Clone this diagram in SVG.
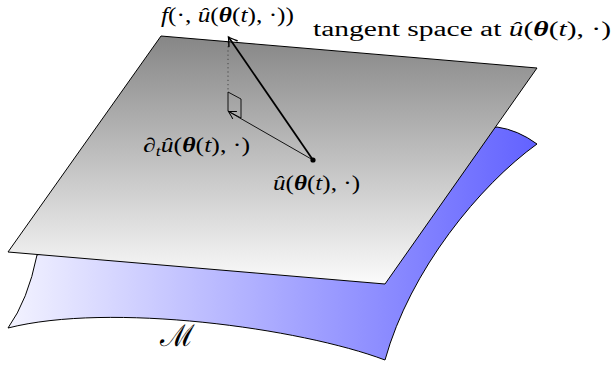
<svg xmlns="http://www.w3.org/2000/svg" width="612" height="368" viewBox="0 0 612 368">
<style>
.i{font-style:italic}
.b{font-weight:bold;font-style:italic}
.edge{stroke:#000;stroke-width:1;stroke-linejoin:round}
</style>
<defs>
<linearGradient id="gM" gradientUnits="userSpaceOnUse" x1="8" y1="0" x2="537" y2="0">
<stop offset="0" stop-color="#f3f3ff"/>
<stop offset="1" stop-color="#6262ff"/>
</linearGradient>
<linearGradient id="gP" gradientUnits="userSpaceOnUse" x1="0" y1="36" x2="0" y2="284">
<stop offset="0" stop-color="#868686"/>
<stop offset="1" stop-color="#fbfbfb"/>
</linearGradient>
<marker id="ahThick" markerUnits="userSpaceOnUse" markerWidth="20" markerHeight="20" refX="0" refY="0" viewBox="-12 -10 20 20" orient="auto">
<path d="M-8,-5 Q-2,-1 0,0 Q-2,1 -8,5" fill="none" stroke="#000" stroke-width="1.4" stroke-linecap="round"/>
</marker>
<marker id="ahThin" markerUnits="userSpaceOnUse" markerWidth="20" markerHeight="20" refX="0" refY="0" viewBox="-12 -10 20 20" orient="auto">
<path d="M-7,-4 Q-2,-1 0,0 Q-2,1 -7,4" fill="none" stroke="#000" stroke-width="1" stroke-linecap="round"/>
</marker>
</defs>
<g id="manifold">
<path class="edge" fill="url(#gM)" d="M37,255 L497,127 Q518,130 537,144 C480,185 410,270 385,360 C300,328 110,302 8,328 Q28,300 37,255 Z"/>
</g>
<g id="tangent-plane">
<path class="edge" fill="url(#gP)" d="M161,36 L537,68 L385,284 L8,252 Z"/>
</g>
<g id="connectors">
<line x1="228" y1="42" x2="228" y2="92" stroke="#444" stroke-width="1" stroke-dasharray="1.2,3"/>
<path d="M228,92 L241,99 L241,118 L228,111 Z" fill="none" stroke="#000" stroke-width="0.9"/>
<line x1="313" y1="160" x2="228.5" y2="37" stroke="#000" stroke-width="1.8" marker-end="url(#ahThick)"/>
<line x1="313" y1="160" x2="228.5" y2="111.5" stroke="#000" stroke-width="0.9" marker-end="url(#ahThin)"/>
<circle cx="313" cy="160" r="2.6" fill="#000"/>
</g>
<g id="labels" font-family="'Liberation Serif', 'DejaVu Serif', serif" font-size="20" fill="#000">
<text x="161" y="22" textLength="133" lengthAdjust="spacingAndGlyphs"><tspan class="i">f</tspan>(·, <tspan class="i">û</tspan>(<tspan class="b">θ</tspan>(<tspan class="i">t</tspan>), ·))</text>
<text x="313" y="36" textLength="298" lengthAdjust="spacingAndGlyphs">tangent space at <tspan class="i">û</tspan>(<tspan class="b">θ</tspan>(<tspan class="i">t</tspan>), ·)</text>
<text x="143" y="152" textLength="107" lengthAdjust="spacingAndGlyphs">∂<tspan class="i" font-size="14" dy="4">t</tspan><tspan class="i" dy="-4">û</tspan>(<tspan class="b">θ</tspan>(<tspan class="i">t</tspan>), ·)</text>
<text x="273" y="190" textLength="87" lengthAdjust="spacingAndGlyphs"><tspan class="i">û</tspan>(<tspan class="b">θ</tspan>(<tspan class="i">t</tspan>), ·)</text>
<text x="160" y="346" font-size="30" font-family="'DejaVu Serif', serif">ℳ</text>
</g>
</svg>
